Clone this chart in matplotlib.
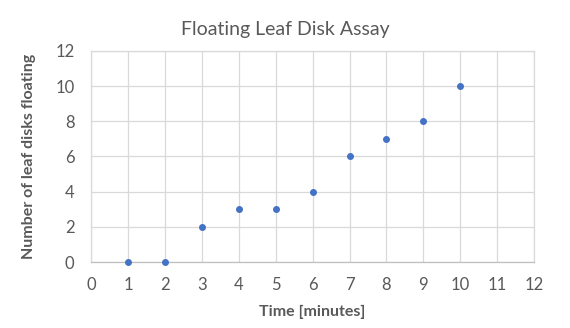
import matplotlib.pyplot as plt

# data
time_min = [1, 2, 3, 4, 5, 6, 7, 8, 9, 10]
disks_floating = [0, 0, 2, 3, 3, 4, 6, 7, 8, 10]

x_ticks = list(range(0, 13))
y_ticks = list(range(0, 13, 2))

plt.rcParams['font.family'] = ['Lato', 'DejaVu Sans']
text_col = '#595959'
grid_col = '#D9D9D9'

fig = plt.figure(figsize=(5.7, 3.28), dpi=100)
ax = fig.add_axes([0.160, 0.201, 0.777, 0.644])

ax.scatter(time_min, disks_floating, s=16, color='#4472C4', zorder=3, clip_on=False)

ax.set_xlim(0, 12)
ax.set_ylim(0, 12)
ax.set_xticks(x_ticks)
ax.set_yticks(y_ticks)
ax.grid(True, color=grid_col, linewidth=0.9)
ax.set_axisbelow(True)
for side in ['top', 'right', 'left']:
    ax.spines[side].set_color(grid_col)
    ax.spines[side].set_linewidth(0.9)
ax.spines['bottom'].set_color('#BFBFBF')
ax.spines['bottom'].set_linewidth(0.9)
ax.tick_params(axis='x', length=0, labelsize=12, labelcolor=text_col, pad=11)
ax.tick_params(axis='y', length=0, labelsize=12, labelcolor=text_col, pad=12)

fig.text(0.5, 0.91, "Floating Leaf Disk Assay", fontsize=14, color=text_col,
         ha='center', va='center')
ax.set_xlabel("Time [minutes]", fontsize=11.5, fontweight='bold', color=text_col, labelpad=8)
ax.set_ylabel("Number of leaf disks floating", fontsize=11.5, fontweight='bold', color=text_col, labelpad=14)

fig.savefig("out.png", dpi=100)
